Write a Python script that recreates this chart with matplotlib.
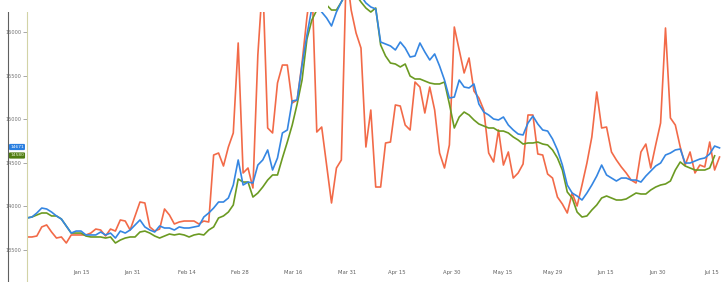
import matplotlib
matplotlib.use("Agg")
import matplotlib.pyplot as plt
from matplotlib.lines import Line2D
from matplotlib.patches import Rectangle

# series values, one per trading day (Jan .. mid Jul)
blue = [13867, 13878, 13924, 13981, 13970, 13935, 13890, 13855, 13775, 13694,
        13717, 13717, 13672, 13672, 13672, 13706, 13672, 13694, 13637, 13717,
        13694, 13729, 13787, 13844, 13764, 13729, 13706, 13775, 13752, 13752,
        13729, 13764, 13752, 13752, 13764, 13775, 13878, 13924, 13981, 14050,
        14050, 14096, 14245, 14532, 14245, 14279, 14268, 14474, 14532, 14647,
        14417, 14555, 14842, 14876, 15209, 15220, 15621, 15966, 16275, 16310,
        16229, 16161, 16069, 16229, 16344, 16459, 16505, 16459, 16413, 16333,
        16287, 16264, 15885, 15862, 15840, 15794, 15885, 15816, 15713, 15725,
        15874, 15771, 15679, 15748, 15610, 15449, 15243, 15254, 15449, 15369,
        15358, 15404, 15174, 15082, 15048, 15002, 14991, 15025, 14933, 14876,
        14830, 14819, 14956, 15036, 14945, 14876, 14864, 14773, 14647, 14474,
        14245, 14153, 14119, 14073, 14153, 14245, 14348, 14474, 14360, 14325,
        14291, 14325, 14325, 14302, 14302, 14279, 14348, 14406, 14463, 14497,
        14589, 14612, 14647, 14658, 14497, 14497, 14520, 14543, 14555, 14601,
        14692, 14671]

green = [13867, 13878, 13901, 13924, 13924, 13890, 13890, 13855, 13775, 13694,
         13694, 13694, 13660, 13649, 13649, 13649, 13637, 13649, 13580, 13614,
         13637, 13649, 13649, 13706, 13717, 13694, 13660, 13637, 13660, 13683,
         13672, 13683, 13672, 13649, 13672, 13683, 13672, 13729, 13764, 13867,
         13890, 13935, 14016, 14314, 14279, 14279, 14107, 14153, 14222, 14302,
         14360, 14360, 14555, 14738, 14933, 15174, 15449, 15920, 16138, 16252,
         16275, 16310, 16252, 16252, 16344, 16436, 16482, 16424, 16344, 16275,
         16229, 16275, 15851, 15725, 15644, 15633, 15599, 15633, 15495, 15461,
         15461, 15438, 15415, 15404, 15404, 15426, 15174, 14899, 15025, 15082,
         15048, 14991, 14945, 14922, 14899, 14899, 14864, 14864, 14842, 14796,
         14761, 14715, 14727, 14727, 14738, 14715, 14704, 14647, 14555, 14417,
         14165, 14096, 13935, 13878, 13890, 13958, 14016, 14096, 14119, 14096,
         14073, 14073, 14085, 14119, 14153, 14142, 14142, 14188, 14222, 14245,
         14257, 14291, 14417, 14509, 14463, 14440, 14417, 14417, 14417, 14440,
         14580]

orange = [13649, 13649, 13660, 13764, 13787, 13706, 13637, 13649, 13580, 13672,
          13672, 13672, 13672, 13694, 13740, 13729, 13660, 13740, 13717, 13844,
          13832, 13729, 13890, 14050, 14039, 13764, 13717, 13740, 13970, 13901,
          13798, 13821, 13832, 13832, 13832, 13798, 13832, 13821, 14589, 14612,
          14463, 14681, 14842, 15874, 14383, 14440, 14211, 15736, 16596, 14899,
          14842, 15415, 15621, 15621, 15186, 15220, 15644, 16172, 16596, 14853,
          14910, 14474, 14039, 14440, 14532, 16711, 16252, 15988, 15816, 14681,
          15105, 14222, 14222, 14727, 14738, 15163, 15151, 14933, 14876, 15426,
          15369, 15071, 15369, 15105, 14612, 14440, 14704, 16057, 15794, 15530,
          15702, 15323, 15243, 15105, 14612, 14509, 14876, 14474, 14624, 14325,
          14383, 14486, 15048, 15048, 14601, 14589, 14371, 14325, 14107, 14027,
          13924, 14153, 14004, 14245, 14497, 14796, 15312, 14899, 14910, 14624,
          14532, 14452, 14383, 14302, 14268, 14624, 14715, 14440, 14704, 14956,
          16046, 15014, 14933, 14681, 14474, 14624, 14383, 14474, 14452, 14738,
          14417, 14566]

tick_labels = ["Jan 15", "Jan 31", "Feb 14", "Feb 28", "Mar 16", "Mar 31", "Apr 15",
               "Apr 30", "May 15", "May 29", "Jun 15", "Jun 30", "Jul 15"]
tick_pos = [11.2, 21.4, 32.6, 43.3, 54.1, 65.1, 75.3, 86.5, 96.8, 107.0, 117.8, 128.4, 139.4]
y_ticks = [13500, 14000, 14500, 15000, 15500, 16000]

W, H = 721, 282
fig = plt.figure(figsize=(W / 100, H / 100), dpi=100)
ax = fig.add_axes([27 / W, 20 / H, (W - 27) / W, 262 / H])

ax.plot(range(len(orange)), orange, color="#f26a48", lw=1.2)
ax.plot(range(len(green)), green, color="#6b9a22", lw=1.2)
ax.plot(range(len(blue)), blue, color="#3586e2", lw=1.2)

ax.set_xlim(0, 141.3)
ax.set_ylim(13362, 16367)
for s in ax.spines.values():
    s.set_visible(False)

ax.set_yticks(y_ticks)
ax.set_yticklabels([str(v) for v in y_ticks])
ax.tick_params(axis="y", length=3, width=0.6, color="#9a9a9a", labelsize=3.6,
               labelcolor="#707070", pad=1)
ax.set_xticks(tick_pos)
ax.set_xticklabels(tick_labels)
ax.tick_params(axis="x", length=0, labelsize=3.8, labelcolor="#606060", pad=6)

# axis line and outer frame line
fig.add_artist(Line2D([26.5 / W, 26.5 / W], [0, 1 - 12 / H], color="#d2d3a6", lw=0.8))
fig.add_artist(Line2D([8 / W, 8 / W], [0, 1 - 12 / H], color="#606060", lw=0.8))
# white band over the top left
fig.add_artist(Rectangle((0, 1 - 12 / H), 328 / W, 12 / H, transform=fig.transFigure,
                         facecolor="white", edgecolor="none", zorder=5))

# last value flags
fig.text(17 / W, 1 - 147 / H, "14671", ha="center", va="center", fontsize=3.2,
         color="white", bbox=dict(boxstyle="round,pad=0.25", fc="#2a7fe0", ec="none"))
fig.text(17 / W, 1 - 155.5 / H, "14580", ha="center", va="center", fontsize=3.2,
         color="#e8f0d0", bbox=dict(boxstyle="round,pad=0.25", fc="#4f7d12", ec="none"))

fig.savefig("out.png", dpi=100)
